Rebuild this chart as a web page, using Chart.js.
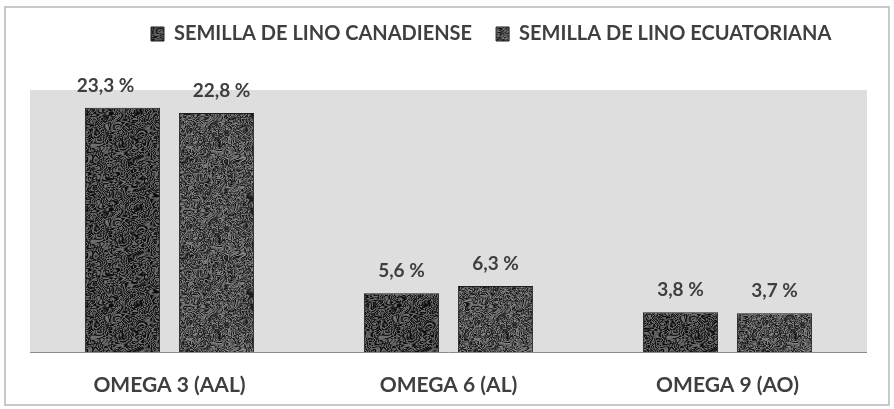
<!DOCTYPE html>
<html>
<head>
<meta charset="utf-8">
<script src="https://cdn.jsdelivr.net/npm/chart.js@4/dist/chart.umd.min.js"></script>
<style>
  html, body { margin: 0; padding: 0; background: #ffffff; }
  #wrap { width: 894px; height: 409px; position: relative; }
</style>
</head>
<body>
<div id="wrap"><canvas id="c" width="894" height="409"></canvas></div>
<script>
// Fatty acid content of flaxseed by origin
const categories = ['OMEGA 3 (AAL)', 'OMEGA 6 (AL)', 'OMEGA 9 (AO)'];
const seriesNames = ['SEMILLA DE LINO CANADIENSE', 'SEMILLA DE LINO ECUATORIANA'];
const canadiense = [23.3, 5.6, 3.8];
const ecuatoriana = [22.8, 6.3, 3.7];

const FONT = 'Lato, "Open Sans", sans-serif';
const TEXT = '#3f3f3f';

// Deterministic stone-like texture used as bar fill (seamless tile, warped sines)
function makeTexture(kind) {
  const s = 96;
  const cv = document.createElement('canvas');
  cv.width = s; cv.height = s;
  const g = cv.getContext('2d');
  const img = g.createImageData(s, s);
  const t = Math.PI * 2 / s;
  for (let y = 0; y < s; y++) {
    for (let x = 0; x < s; x++) {
      const wx = x * t + 0.9 * Math.sin(y * t * 3) + 0.5 * Math.sin(y * t * 7 + x * t * 2);
      const wy = y * t + 0.9 * Math.cos(x * t * 4) + 0.5 * Math.cos(x * t * 5 - y * t * 3);
      let v;
      if (kind === 0) {
        v = Math.sin(wx * 9 + wy * 4) * Math.cos(wy * 11 - wx * 3)
          + 0.45 * Math.sin(wx * 17 + wy * 13);
        v = Math.tanh(v * 1.6);
      } else {
        const r = Math.sin(wx * 3) * Math.cos(wy * 4) + 0.6 * Math.sin(wx * 5 + wy * 2);
        v = Math.sin(r * 8) * 0.8 + 0.35 * Math.cos(wx * 15 - wy * 12);
      }
      let c = kind === 0 ? 62 + v * 55 : 78 + v * 55;
      c = Math.max(8, Math.min(215, c));
      const i = (y * s + x) * 4;
      img.data[i] = img.data[i + 1] = img.data[i + 2] = c;
      img.data[i + 3] = 255;
    }
  }
  g.putImageData(img, 0, 0);
  return g.createPattern(cv, 'repeat');
}
const pat0 = makeTexture(0);
const pat1 = makeTexture(1);

// Grey plot background, baseline, value labels and outer frame
const framePlugin = {
  id: 'frame',
  beforeDraw(chart) {
    const { ctx, chartArea: a } = chart;
    ctx.save();
    ctx.fillStyle = '#ffffff';
    ctx.fillRect(0, 0, chart.width, chart.height);
    ctx.strokeStyle = '#c9c9c9';
    ctx.lineWidth = 2;
    ctx.strokeRect(5, 7, 884, 398);
    ctx.fillStyle = '#dedede';
    ctx.fillRect(a.left, a.top, a.right - a.left, a.bottom - a.top);
    ctx.restore();
  },
  afterDatasetsDraw(chart, args, opts) {
    const { ctx, chartArea: a } = chart;
    ctx.save();
    ctx.strokeStyle = '#8a8a8a';
    ctx.lineWidth = 1;
    ctx.beginPath();
    ctx.moveTo(a.left, a.bottom + 0.5);
    ctx.lineTo(a.right, a.bottom + 0.5);
    ctx.stroke();
    ctx.fillStyle = TEXT;
    ctx.font = 'bold 19px ' + FONT;
    ctx.textAlign = 'center';
    ctx.textBaseline = 'middle';
    chart.data.datasets.forEach((ds, di) => {
      const meta = chart.getDatasetMeta(di);
      meta.data.forEach((bar, i) => {
        const txt = ds.data[i].toFixed(1).replace('.', ',') + ' %';
        const dx = (opts.labelShift[di] || [])[i] || 0;
        ctx.fillText(txt, bar.x + dx, bar.y - 22);
      });
    });
    ctx.restore();
  }
};

// Fixed band for the legend, and its horizontal placement
const legendBand = {
  id: 'legendBand',
  beforeInit(chart) {
    const lg = chart.legend;
    const fit = lg.fit;
    lg.fit = function () { fit.call(this); this.height = 90; };
    const draw = lg.draw;
    lg.draw = function () {
      const ctx = chart.ctx;
      ctx.save();
      ctx.translate(chart.$legendDx || 0, 0);
      draw.call(this);
      ctx.restore();
    };
  },
  afterUpdate(chart, args, opts) {
    const hb = chart.legend.legendHitBoxes;
    if (hb && hb.length) chart.$legendDx = opts.startX - hb[0].left;
  }
};

new Chart(document.getElementById('c'), {
  type: 'bar',
  data: {
    labels: categories,
    datasets: [
      { label: seriesNames[0], data: canadiense, backgroundColor: pat0, borderColor: '#1e1e1e', borderWidth: 1 },
      { label: seriesNames[1], data: ecuatoriana, backgroundColor: pat1, borderColor: '#1e1e1e', borderWidth: 1 }
    ]
  },
  options: {
    responsive: false,
    animation: false,
    devicePixelRatio: 1,
    layout: { padding: { left: 30, right: 27, top: 0, bottom: 0 } },
    datasets: { bar: { categoryPercentage: 0.674, barPercentage: 0.8 } },
    scales: {
      x: {
        grid: { display: false, drawTicks: false },
        border: { display: false },
        ticks: { color: TEXT, padding: 21, font: { family: FONT, size: 21, weight: 'bold' } },
        afterFit(scale) { scale.height = 57; }
      },
      y: { display: false, min: 0, max: 25 }
    },
    plugins: {
      legend: {
        position: 'top',
        labels: {
          color: TEXT,
          boxWidth: 13,
          boxHeight: 14,
          padding: 24,
          font: { family: FONT, size: 20, weight: 'bold' }
        }
      },
      legendBand: { startX: 151 },
      frame: { labelShift: [[-17, 0, 0], [5, 0, 0]] },
      tooltip: { enabled: false }
    }
  },
  plugins: [framePlugin, legendBand]
});
</script>
</body>
</html>
